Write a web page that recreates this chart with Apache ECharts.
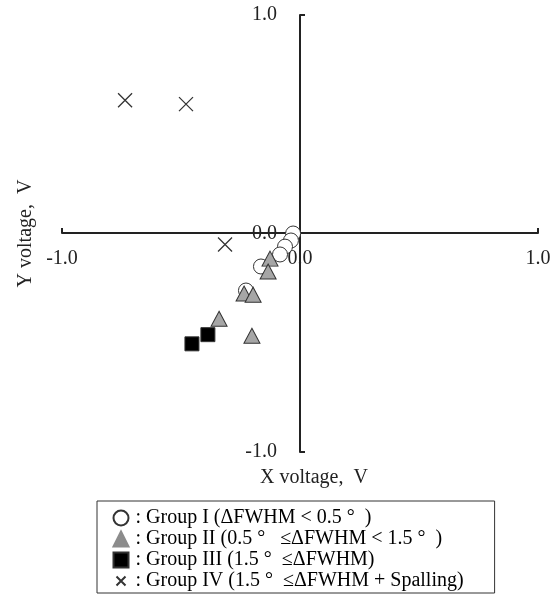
<!DOCTYPE html>
<html>
<head>
<meta charset="utf-8">
<script src="https://cdn.jsdelivr.net/npm/echarts@6/dist/echarts.min.js"></script>
<style>
html,body{margin:0;padding:0;background:#fff;}
#chart{width:558px;height:599px;}
</style>
</head>
<body>
<div id="chart"></div>
<script>
// Data
var seriesNames = [
  ': Group I (\u0394FWHM < 0.5 \u00b0  )',
  ': Group II (0.5 \u00b0   \u2264\u0394FWHM < 1.5 \u00b0  )',
  ': Group III (1.5 \u00b0  \u2264\u0394FWHM)',
  ': Group IV (1.5 \u00b0  \u2264\u0394FWHM + Spalling)'
];
var group1 = [[-0.029, 0.0], [-0.038, -0.032], [-0.063, -0.060], [-0.084, -0.096], [-0.164, -0.151], [-0.227, -0.261]];
var group2 = [[-0.126, -0.115], [-0.134, -0.174], [-0.235, -0.275], [-0.197, -0.280], [-0.340, -0.390], [-0.202, -0.468]];
var group3 = [[-0.387, -0.463], [-0.454, -0.505]];
var group4 = [[-0.735, 0.610], [-0.479, 0.592], [-0.315, -0.050]];
var axisMin = -1, axisMax = 1, axisStep = 1;
var xAxisName = 'X voltage,  V';
var yAxisName = 'Y voltage,  V';

var FONT = 'Liberation Serif';
var crossPath = 'path://M0,0L10,10M10,0L0,10';
var crossLegendIcon = 'path://M0,0L0,0M4,4L16,16M16,4L4,16M20,20L20,20';

var chart = echarts.init(document.getElementById('chart'), null, {renderer: 'canvas'});
var axisCommon = {
  type: 'value', min: axisMin, max: axisMax, interval: axisStep,
  splitLine: {show: false},
  axisLine: {show: true, onZero: false, lineStyle: {color: '#222', width: 2}},
  axisTick: {show: true, inside: true, length: 5, customValues: [axisMin, axisMax], lineStyle: {color: '#222', width: 2}},
  axisLabel: {fontFamily: FONT, fontSize: 20, color: '#222', formatter: function (v) { return v.toFixed(1); }},
  nameTextStyle: {fontFamily: FONT, fontSize: 20, color: '#222'}
};
var option = {
  backgroundColor: '#fff',
  animation: false,
  grid: {left: 62, right: 20, top: 15, bottom: 147, containLabel: false, outerBoundsMode: 'none'},
  xAxis: Object.assign({}, axisCommon, {
    position: 'bottom', offset: -219,
    name: xAxisName, nameLocation: 'middle', nameGap: 235,
    axisLabel: Object.assign({}, axisCommon.axisLabel, {margin: 16}),
    nameTextStyle: Object.assign({}, axisCommon.nameTextStyle, {padding: [0, 0, 0, 28]})
  }),
  yAxis: Object.assign({}, axisCommon, {
    position: 'left', offset: -238,
    name: yAxisName, nameLocation: 'middle', nameGap: 264, nameRotate: 90,
    axisLabel: Object.assign({}, axisCommon.axisLabel, {margin: 23})
  }),
  legend: {
    type: 'plain',
    orient: 'vertical', left: 97, top: 501, height: 96,
    padding: [7, 31, 2, 14],
    itemGap: 1, itemWidth: 15, itemHeight: 15,
    borderColor: '#333', borderWidth: 1,
    textStyle: {fontFamily: FONT, fontSize: 20, lineHeight: 18, color: '#000', padding: [0, 0, 0, 2]},
    data: [
      {name: seriesNames[0]},
      {name: seriesNames[1], itemStyle: {color: '#8c8c8c', borderColor: '#8c8c8c'}},
      {name: seriesNames[2]},
      {name: seriesNames[3], icon: crossLegendIcon}
    ]
  },
  series: [
    {name: seriesNames[0], type: 'scatter', data: group1, symbol: 'circle', symbolSize: 15,
     itemStyle: {color: '#fff', borderColor: '#333', borderWidth: 1, opacity: 1}},
    {name: seriesNames[1], type: 'scatter', data: group2, symbol: 'triangle', symbolSize: [16, 15],
     itemStyle: {color: '#a6a6a6', borderColor: '#333', borderWidth: 1, opacity: 1}},
    {name: seriesNames[2], type: 'scatter', data: group3, symbol: 'rect', symbolSize: 14,
     itemStyle: {color: '#000', borderColor: '#333', borderWidth: 1, opacity: 1}},
    {name: seriesNames[3], type: 'scatter', data: group4, symbol: crossPath, symbolSize: 14,
     itemStyle: {color: 'none', borderColor: '#333', borderWidth: 1.3, opacity: 1}}
  ]
};
chart.setOption(option);
</script>
</body>
</html>
